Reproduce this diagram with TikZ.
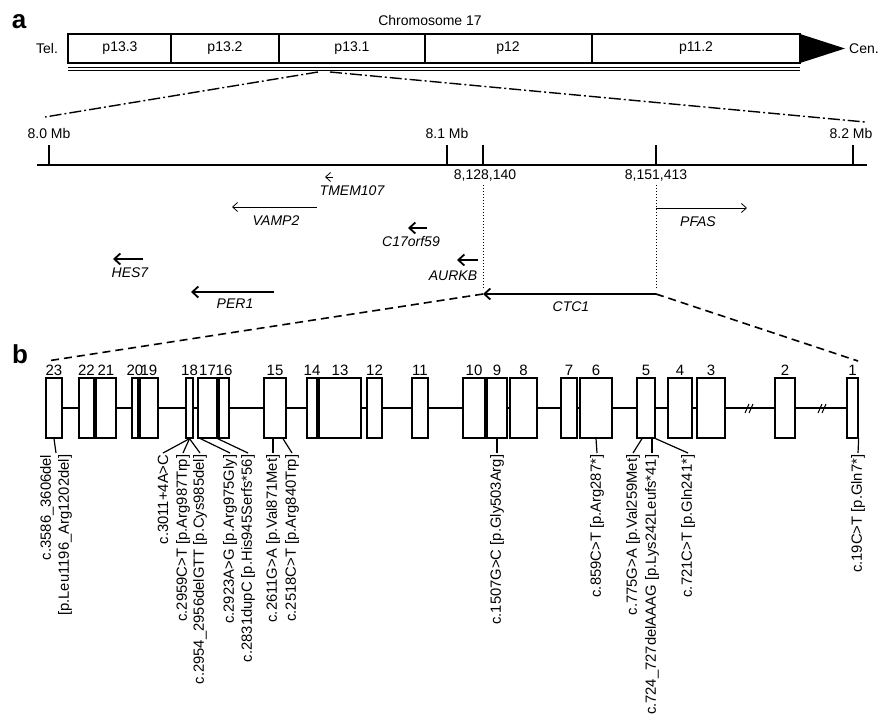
\documentclass[tikz,border=0pt]{standalone}
\usepackage{fontspec}
\setmainfont{Liberation Sans}
\usetikzlibrary{arrows.meta}

\begin{document}
\begin{tikzpicture}[x=1pt, y=-1pt,
  font=\fontsize{14}{17}\selectfont,
  panel/.style={font=\fontsize{26}{26}\selectfont\bfseries, inner sep=0pt},
  bandline/.style={line width=1.2pt},
  zoomline/.style={line width=1.4pt, dash pattern=on 12pt off 3pt on 2pt off 3pt},
  zoomdash/.style={line width=1.6pt, dash pattern=on 8pt off 5pt},
  genelabel/.style={font=\fontsize{14}{17}\selectfont\itshape, inner sep=1pt},
  genethick/.style={line width=1.8pt, -{Straight Barb[length=6pt, width=11pt]}},
  genethin/.style={line width=0.8pt, -{Straight Barb[length=5pt, width=9pt]}},
  exon/.style={draw, fill=white, line width=1.3pt, minimum height=60pt, inner sep=0pt},
  exonnum/.style={anchor=south, inner sep=0pt, yshift=2pt, font=\fontsize{15}{17}\selectfont},
  intron/.style={line width=1.3pt},
  mutation/.style={rotate=90, anchor=east, inner sep=1.5pt, align=right,
    font=\fontsize{14.8}{18}\selectfont},
  mutlink/.style={line width=1.2pt}]
\useasboundingbox (0,0) rectangle (880,717);

% Panel a: chromosome 17 ideogram
\node[panel] (pa) at (19,22) {a};
\node (chrtitle) at (430,20) {Chromosome 17};
\node (tel) at (47,48.5) {Tel.};
\node (cen) at (864,48.5) {Cen.};
\draw[bandline] (68,34) rectangle (800,63);
\foreach \x in {171,279,425,592}
  \draw[bandline] (\x,34) -- (\x,63);
\foreach \lbl/\x [count=\i] in {p13.3/120, p13.2/225, p13.1/352, p12/508, p11.2/696}
  \node (band\i) at (\x,48.5) {\lbl};
\fill (800,34) -- (845,48.5) -- (800,63) -- cycle;
\draw[line width=1pt] (68,67) -- (800,67);
\draw[line width=1pt] (68,70.5) -- (800,70.5);

% Zoom into p13.1
\coordinate (zoomL) at (318,72);
\coordinate (zoomR) at (330,72);
\coordinate (scaleL) at (45,117);
\coordinate (scaleR) at (865,122);
\draw[zoomline] (zoomL) -- (scaleL);
\draw[zoomline] (zoomR) -- (scaleR);

% Scale bar
\draw[line width=2pt] (37,165) -- (867,165);
\foreach \x in {49,447,483,656,853}
  \draw[line width=1.6pt] (\x,145) -- (\x,165);
\node (mb0) at (49,133) {8.0 Mb};
\node (mb1) at (447,133) {8.1 Mb};
\node (mb2) at (851,133) {8.2 Mb};
\node (pos1) at (485,176) {8,128,140};
\node (pos2) at (656,176) {8,151,413};

% Genes
\coordinate (ctcR) at (656,294);
\coordinate (ctcL) at (483,294);
\draw[dotted, line width=1pt] (ctcL |- pos1.south) -- ([yshift=4pt]ctcL);
\draw[dotted, line width=1pt] (ctcR |- pos2.south) -- ([yshift=4pt]ctcR);
\draw[genethick] (ctcR) -- (ctcL);
\node[genelabel] (ctc1) at (571,307) {CTC1};

\coordinate (tmemA) at (333,177);
\coordinate (tmemB) at (325,177);
\draw[genethin] (tmemA) -- (tmemB);
\node[genelabel] (tmem107) at (352,191) {TMEM107};

\coordinate (vampA) at (317,207);
\coordinate (vampB) at (232,207);
\draw[genethin] (vampA) -- (vampB);
\node[genelabel] (vamp2) at (276,221) {VAMP2};

\coordinate (pfasA) at (656,208);
\coordinate (pfasB) at (747,208);
\draw[genethin] (pfasA) -- (pfasB);
\node[genelabel] (pfas) at (698,222) {PFAS};

\coordinate (corfA) at (427,228);
\coordinate (corfB) at (408,228);
\draw[genethick] (corfA) -- (corfB);
\node[genelabel] (c17orf59) at (411,241) {C17orf59};

\coordinate (aurkA) at (478,260);
\coordinate (aurkB) at (457,260);
\draw[genethick] (aurkA) -- (aurkB);
\node[genelabel] (aurkb) at (453,276) {AURKB};

\coordinate (hesA) at (143,259);
\coordinate (hesB) at (113,259);
\draw[genethick] (hesA) -- (hesB);
\node[genelabel] (hes7) at (130,273) {HES7};

\coordinate (perA) at (274,292);
\coordinate (perB) at (191,292);
\draw[genethick] (perA) -- (perB);
\node[genelabel] (per1) at (235,304) {PER1};

% Panel b: CTC1 exon structure
\node[panel] (pb) at (20,354) {b};
\foreach \n/\a/\b in {23/46/62, 22/79/94, 21/96/116, 20/132/138, 19/140/158,
    18/186/193, 17/198/217, 16/219/229, 15/264/286, 14/307/317, 13/319/361,
    12/367/382, 11/412/428, 10/463/485, 9/487/507, 8/510/537, 7/561/577,
    6/580/612, 5/637/655, 4/668/692, 3/697/725, 2/775/795, 1/847/858} {
  \pgfmathsetmacro\w{\b-\a}
  \node[exon, minimum width=\w pt] (e\n) at ({(\a+\b)/2},408) {};
  \node[exonnum] (n\n) at (e\n.north) {\n};
}
\foreach \a/\b in {23/22, 22/21, 21/20, 20/19, 19/18, 18/17, 17/16, 16/15,
    15/14, 14/13, 13/12, 12/11, 11/10, 10/9, 9/8, 8/7, 7/6, 6/5, 5/4, 4/3,
    3/2, 2/1}
  \draw[intron] (e\a.east) -- (e\b.west);
% Breaks in long introns
\foreach \x in {750,823} {
  \draw[line width=1pt] (\x-5,413) -- (\x-1,404);
  \draw[line width=1pt] (\x-1,413) -- (\x+3,404);
}

% Zoom from CTC1 to exon map
\coordinate (dashL) at (47,361);
\coordinate (dashR) at (858,361);
\draw[zoomdash] (ctcL) -- (dashL);
\draw[zoomdash] (ctcR) -- (dashR);

% Mutations
\node[mutation] (m1) at (56,453) {c.3586\_3606del\\{}[p.Leu1196\_Arg1202del]};
\node[mutation] (m2) at (163,453) {c.3011+4A>C};
\node[mutation] (m3) at (183,453) {c.2959C>T [p.Arg987Trp]};
\node[mutation] (m4) at (200,453) {c.2954\_2956delGTT [p.Cys985del]};
\node[mutation] (m5) at (230,453) {c.2923A>G [p.Arg975Gly]};
\node[mutation] (m6) at (248,453) {c.2831dupC [p.His945Serfs*56]};
\node[mutation] (m7) at (273,453) {c.2611G>A [p.Val871Met]};
\node[mutation] (m8) at (292,453) {c.2518C>T [p.Arg840Trp]};
\node[mutation] (m9) at (497,453) {c.1507G>C [p.Gly503Arg]};
\node[mutation] (m10) at (597,453) {c.859C>T [p.Arg287*]};
\node[mutation] (m11) at (633,453) {c.775G>A [p.Val259Met]};
\node[mutation] (m12) at (652,453) {c.724\_727delAAAG [p.Lys242Leufs*41]};
\node[mutation] (m13) at (688,453) {c.721C>T [p.Gln241*]};
\node[mutation] (m14) at (858,453) {c.19C>T [p.Gln7*]};
\draw[mutlink] (e23.south) -- (m1.east);
\draw[mutlink] (e18.south) -- (m2.east);
\draw[mutlink] (e18.south) -- (m3.east);
\draw[mutlink] (e18.south) -- (m4.east);
\draw[mutlink] ([xshift=-7pt]e17.south) -- (m5.east);
\draw[mutlink] (e17.south east) -- (m6.east);
\draw[mutlink] ([xshift=-2pt]e15.south) -- (m7.east);
\draw[mutlink] ([xshift=8pt]e15.south) -- (m8.east);
\draw[mutlink] (e9.south) -- (m9.east);
\draw[mutlink] (e6.south) -- (m10.east);
\draw[mutlink] ([xshift=-4pt]e5.south) -- (m11.east);
\draw[mutlink] ([xshift=6pt]e5.south) -- (m12.east);
\draw[mutlink] (e5.south east) -- (m13.east);
\draw[mutlink] (e1.south east) -- (m14.east);
\end{tikzpicture}
\end{document}
